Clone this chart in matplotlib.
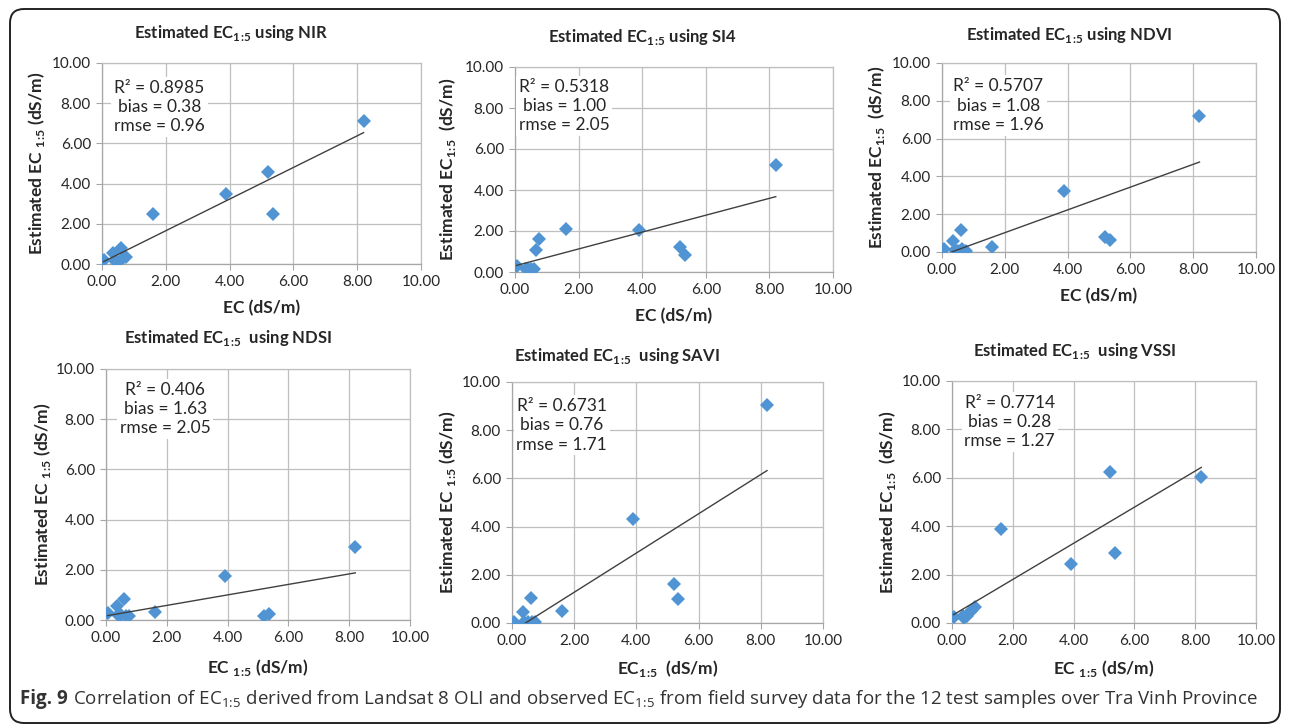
import matplotlib
matplotlib.use('Agg')
import matplotlib.pyplot as plt
from matplotlib.patches import FancyBboxPatch
from matplotlib.transforms import IdentityTransform
import numpy as np

W, H = 1292, 726

# observed EC (dS/m) of the 12 test samples
ec_obs = [0.05, 0.35, 0.40, 0.50, 0.60, 0.65, 0.75, 1.60, 3.90, 5.20, 5.35, 8.20]

# estimated EC1:5 per index
est_nir = [0.20, 0.55, 0.15, 0.10, 0.80, 0.30, 0.35, 2.50, 3.50, 4.60, 2.50, 7.10]
est_si4 = [0.30, 0.15, 0.15, 0.15, 0.15, 1.05, 1.60, 2.10, 2.05, 1.20, 0.85, 5.20]
est_ndvi = [0.15, 0.60, 0.10, 0.05, 1.15, 0.15, 0.05, 0.25, 3.25, 0.80, 0.65, 7.20]
est_ndsi = [0.27, 0.55, 0.20, 0.20, 0.85, 0.15, 0.15, 0.30, 1.75, 0.15, 0.25, 2.90]
est_savi = [0.05, 0.45, 0.05, 0.05, 1.05, 0.05, 0.05, 0.50, 4.30, 1.60, 1.00, 9.05]
est_vssi = [0.25, 0.30, 0.20, 0.30, 0.45, 0.55, 0.65, 3.90, 2.45, 6.25, 2.90, 6.05]

estimates = [est_nir, est_si4, est_ndvi, est_ndsi, est_savi, est_vssi]
index_names = ['NIR', 'SI4', 'NDVI', 'NDSI', 'SAVI', 'VSSI']
r2 = ['0.8985', '0.5318', '0.5707', '0.406', '0.6731', '0.7714']
bias = ['0.38', '1.00', '1.08', '1.63', '0.76', '0.28']
rmse = ['0.96', '2.05', '1.96', '2.05', '1.71', '1.27']

sub = r'$_{\mathregular{1\!:\!5}}$'
titles = ['Estimated EC' + sub + ' using NIR', 'Estimated EC' + sub + ' using SI4',
          'Estimated EC' + sub + ' using NDVI', 'Estimated EC' + sub + '  using NDSI',
          'Estimated EC' + sub + '  using SAVI', 'Estimated EC' + sub + '  using VSSI']
xlabels = ['EC (dS/m)', 'EC (dS/m)', 'EC (dS/m)', 'EC ' + sub + ' (dS/m)',
           'EC' + sub + '  (dS/m)', 'EC ' + sub + ' (dS/m)']
ylabels = ['Estimated EC ' + sub + ' (dS/m)', 'Estimated EC' + sub + '  (dS/m)',
           'Estimated EC' + sub + '  (dS/m)', 'Estimated EC ' + sub + ' (dS/m)',
           'Estimated EC ' + sub + ' (dS/m)', 'Estimated EC' + sub + '  (dS/m)']
ticks = [0, 2, 4, 6, 8, 10]
tick_labels = ['0.00', '2.00', '4.00', '6.00', '8.00', '10.00']

# layout in image pixels: left, right, top, bottom of plot area
boxes = [(102, 421, 63, 264), (515, 833, 67, 272), (942, 1256, 63, 252),
         (106, 410, 369, 620), (512, 823, 382, 623), (952, 1256, 381, 623)]
title_pos = [(231, 33), (643, 37), (1069, 35), (228, 338), (617, 356), (1075, 351)]
ylabel_x = [37, 448, 877, 43, 448, 888]
xlabel_y = [310, 318, 298, 667, 668, 668]
stats_pos = [(1.8, 7.8), (1.55, 8.1), (1.8, 7.75), (1.95, 8.4), (1.6, 8.2), (1.9, 8.3)]

plt.rcParams['font.family'] = ['Lato', 'DejaVu Sans']
plt.rcParams['mathtext.fontset'] = 'dejavusans'

fig = plt.figure(figsize=(W / 100, H / 100), dpi=100)
fig.patch.set_facecolor('white')

grid_c = '#BFBFBF'
axis_c = '#A6A6A6'
blue = '#5094D3'
txt_c = '#262626'

for i in range(6):
    l, r, t, b = boxes[i]
    ax = fig.add_axes([l / W, 1 - b / H, (r - l) / W, (b - t) / H])
    x = np.array(ec_obs)
    y = np.array(estimates[i])
    ax.set_xlim(0, 10)
    ax.set_ylim(0, 10)
    ax.set_xticks(ticks)
    ax.set_yticks(ticks)
    ax.set_xticklabels(tick_labels)
    ax.set_yticklabels(tick_labels)
    ax.tick_params(labelsize=11, length=4, color=axis_c, width=0.8, pad=4,
                   labelcolor=txt_c)
    ax.grid(True, color=grid_c, lw=0.9, zorder=0)
    ax.set_axisbelow(True)
    for s in ['top', 'right']:
        ax.spines[s].set_color(grid_c)
        ax.spines[s].set_linewidth(0.9)
    for s in ['left', 'bottom']:
        ax.spines[s].set_color(axis_c)
        ax.spines[s].set_linewidth(0.9)

    ax.plot(x, y, linestyle='none', marker='D', markersize=7.5, color=blue,
            markeredgewidth=0, zorder=4)
    m, c = np.polyfit(x, y, 1)
    xs = np.array([x.min(), x.max()])
    ax.plot(xs, m * xs + c, color='#404040', lw=1.0, zorder=5)

    ax.text(stats_pos[i][0], stats_pos[i][1],
            'R\u00b2 = ' + r2[i] + '\nbias = ' + bias[i] + '\nrmse = ' + rmse[i],
            ha='center', va='center', multialignment='center', fontsize=12.5,
            linespacing=1.25, color=txt_c, zorder=3,
            bbox=dict(facecolor='white', edgecolor='none', pad=2))

    ax.set_xlabel(xlabels[i], fontsize=12.5, fontweight='bold', color=txt_c)
    ax.set_ylabel(ylabels[i], fontsize=12.5, fontweight='bold', color=txt_c)
    ax.yaxis.set_label_coords((ylabel_x[i] + 10 - l) / (r - l), 0.5)
    ax.xaxis.set_label_coords(0.5, (b - (xlabel_y[i] - 10)) / (b - t))

    fig.text(title_pos[i][0] / W, 1 - title_pos[i][1] / H, titles[i],
             ha='center', va='center', fontsize=12, fontweight='bold', color=txt_c)

# rounded frame around the whole figure
frame = FancyBboxPatch((10, 3), W - 22, H - 12, boxstyle='round,pad=0,rounding_size=14',
                       transform=IdentityTransform(), facecolor='none',
                       edgecolor='#222222', linewidth=1.4)
fig.patches.append(frame)

# caption
cap_font = ['Open Sans', 'DejaVu Sans']
renderer = fig.canvas.get_renderer()
t1 = fig.text(20 / W, 1 - 699 / H, 'Fig. 9', ha='left', va='center', fontsize=13.5,
              fontweight='bold', family=cap_font, color='#333333')
bb = t1.get_window_extent(renderer)
fig.text((bb.x1 + 5) / W, 1 - 699 / H,
         'Correlation of EC' + sub + ' derived from Landsat 8 OLI and observed EC' + sub +
         ' from field survey data for the 12 test samples over Tra Vinh Province',
         ha='left', va='center', fontsize=13.5, family=cap_font, color='#333333')

fig.savefig('out.png', dpi=100)
